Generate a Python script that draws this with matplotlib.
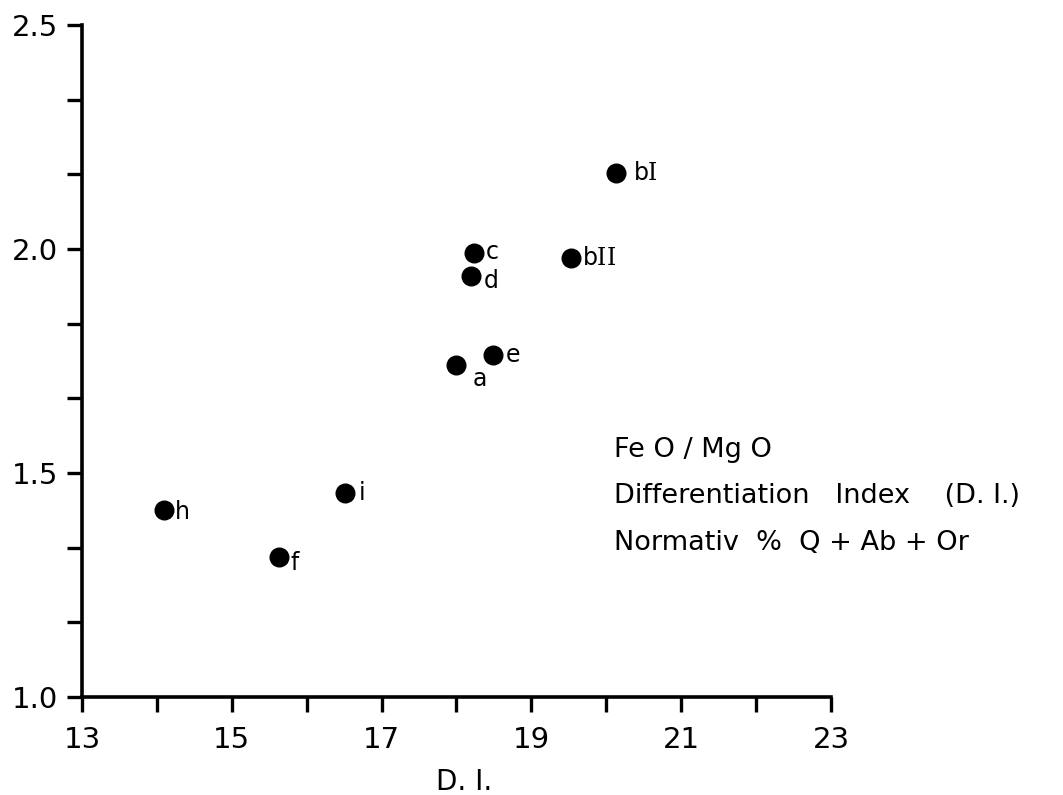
import matplotlib.pyplot as plt
from matplotlib.ticker import MultipleLocator, FixedLocator

# Data
labels = ["a", r"b$\mathrm{I}$", r"b$\mathrm{II}$", "c", "d", "e", "f", "h", "i"]
di = [18.0, 20.13, 19.53, 18.23, 18.2, 18.49, 15.63, 14.09, 16.51]
feo_mgo = [1.74, 2.17, 1.98, 1.99, 1.94, 1.763, 1.312, 1.417, 1.455]

# label offsets in points (dx, dy)
offsets = [(12, -10), (12, 0), (8, 0), (9, 1), (9, -4), (9, 0), (8, -4), (8, -1), (10, 0)]

legend_lines = ["Fe O / Mg O", "Differentiation   Index    (D. I.)", "Normativ  %  Q + Ab + Or"]
legend_y = [1.551, 1.449, 1.344]

fig = plt.figure(figsize=(10.63, 7.95), dpi=100)
ax = fig.add_axes([0.0771, 0.1233, 0.7046, 0.8453])

ax.scatter(di, feo_mgo, s=180, color="black", zorder=3)
for lab, x, y, (dx, dy) in zip(labels, di, feo_mgo, offsets):
    ax.annotate(lab, (x, y), xytext=(dx, dy), textcoords="offset points",
                ha="left", va="center", fontsize=17, math_fontfamily="dejavuserif")

ax.set_xlim(13, 23)
ax.set_ylim(1.0, 2.5)

ax.xaxis.set_major_locator(FixedLocator([13, 15, 17, 19, 21, 23]))
ax.xaxis.set_minor_locator(FixedLocator([14, 16, 18, 20, 22]))
ax.yaxis.set_major_locator(FixedLocator([1.0, 1.5, 2.0, 2.5]))
ax.yaxis.set_minor_locator(MultipleLocator(1 / 6))
ax.set_yticklabels(["1.0", "1.5", "2.0", "2.5"])

for s in ["top", "right"]:
    ax.spines[s].set_visible(False)
for s in ["left", "bottom"]:
    ax.spines[s].set_linewidth(2.6)

ax.tick_params(which="both", length=11, width=2.4, direction="out")
ax.tick_params(axis="x", which="major", labelsize=21, pad=10)
ax.tick_params(axis="y", which="major", labelsize=21, pad=6)

ax.set_xlabel("D. I.", fontsize=20)
ax.xaxis.set_label_coords(0.51, -0.105)

for txt, y in zip(legend_lines, legend_y):
    ax.text(20.11, y, txt, fontsize=19.5, ha="left", va="center")

fig.savefig("out.png", dpi=100)
